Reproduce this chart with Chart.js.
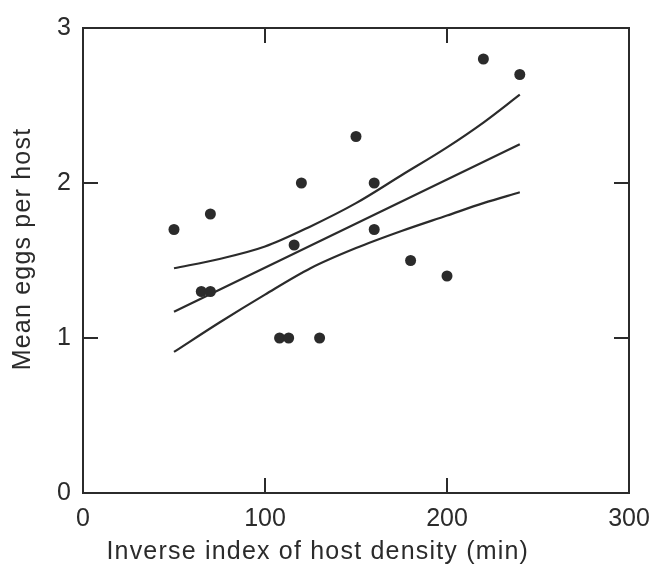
<!DOCTYPE html>
<html lang="en">
<head>
    <meta charset="UTF-8">
    <title>Mean eggs per host</title>
    <style>
        body { margin: 0; background: #fff; }
        #wrap { width: 649px; height: 564px; }
    </style>
</head>
<body>
    <div id="wrap">
        <canvas id="myChart" width="649" height="564"></canvas>
    </div>

    <script src="https://cdn.jsdelivr.net/npm/chart.js"></script>
    <script>
        // observed points
        const eggX = [50, 65, 70, 70, 108, 113, 116, 120, 130, 150, 160, 160, 180, 200, 220, 240];
        const eggY = [1.7, 1.3, 1.3, 1.8, 1.0, 1.0, 1.6, 2.0, 1.0, 2.3, 2.0, 1.7, 1.5, 1.4, 2.8, 2.7];

        // regression line
        const fitX = [50, 240];
        const fitY = [1.17, 2.25];

        // confidence band
        const bandX = [50, 75, 100, 125, 150, 175, 200, 220, 240];
        const upperY = [1.45, 1.51, 1.59, 1.72, 1.87, 2.05, 2.23, 2.39, 2.57];
        const lowerY = [0.91, 1.10, 1.28, 1.45, 1.58, 1.69, 1.79, 1.87, 1.94];

        // axis ticks
        const xTicks = [0, 100, 200, 300];
        const yTicks = [0, 1, 2, 3];

        const xTitle = "Inverse index of host density (min)";
        const yTitle = "Mean eggs per host";

        const ink = "#2b2b2b";
        const fontFam = "'Liberation Sans', Arial, sans-serif";

        function toPts(xs, ys) {
            return xs.map((x, i) => ({ x: x, y: ys[i] }));
        }

        // box + inward tick marks + axis titles
        const framePlugin = {
            id: "frame",
            afterDraw(chart) {
                const c = chart.ctx;
                const a = chart.chartArea;
                const sx = chart.scales.x;
                const sy = chart.scales.y;
                const len = 15;
                c.save();
                c.strokeStyle = ink;
                c.lineWidth = 2;
                c.strokeRect(a.left, a.top, a.right - a.left, a.bottom - a.top);
                c.beginPath();
                xTicks.slice(1, -1).forEach(v => {
                    const px = Math.round(sx.getPixelForValue(v));
                    c.moveTo(px, a.bottom); c.lineTo(px, a.bottom - len);
                    c.moveTo(px, a.top); c.lineTo(px, a.top + len);
                });
                yTicks.slice(1, -1).forEach(v => {
                    const py = Math.round(sy.getPixelForValue(v));
                    c.moveTo(a.left, py); c.lineTo(a.left + len, py);
                    c.moveTo(a.right, py); c.lineTo(a.right - len, py);
                });
                c.stroke();

                // titles
                c.fillStyle = ink;
                c.font = "25px " + fontFam;
                c.letterSpacing = "1.2px";
                c.textAlign = "center";
                c.textBaseline = "middle";
                c.fillText(xTitle, a.left + (a.right - a.left) * 0.43, 552);
                c.translate(23, 249);
                c.rotate(-Math.PI / 2);
                c.fillText(yTitle, 0, 0);
                c.restore();
            }
        };

        const ctx = document.getElementById("myChart");
        let myChart = new Chart(ctx, {
            type: "scatter",
            data: {
                datasets: [{
                    label: "eggs",
                    data: toPts(eggX, eggY),
                    pointRadius: 5.5,
                    pointBackgroundColor: ink,
                    pointBorderWidth: 0,
                    showLine: false
                }, {
                    label: "fit",
                    data: toPts(fitX, fitY),
                    showLine: true,
                    pointRadius: 0,
                    borderColor: ink,
                    borderWidth: 2.2
                }, {
                    label: "upper",
                    data: toPts(bandX, upperY),
                    showLine: true,
                    pointRadius: 0,
                    borderColor: ink,
                    borderWidth: 2.2,
                    cubicInterpolationMode: "monotone"
                }, {
                    label: "lower",
                    data: toPts(bandX, lowerY),
                    showLine: true,
                    pointRadius: 0,
                    borderColor: ink,
                    borderWidth: 2.2,
                    cubicInterpolationMode: "monotone"
                }]
            },
            options: {
                responsive: false,
                animation: false,
                layout: {
                    padding: { top: 28, right: 20, left: 0, bottom: 0 }
                },
                plugins: {
                    legend: { display: false },
                    tooltip: { enabled: false }
                },
                scales: {
                    x: {
                        type: "linear",
                        min: 0,
                        max: 300,
                        afterBuildTicks(scale) {
                            scale.ticks = xTicks.map(v => ({ value: v }));
                        },
                        afterFit(scale) {
                            scale.height = 71;
                            scale.paddingLeft = 0;
                            scale.paddingRight = 0;
                        },
                        grid: { display: false, drawTicks: false },
                        border: { display: false },
                        ticks: {
                            padding: 11,
                            color: ink,
                            maxRotation: 0,
                            font: { family: fontFam, size: 25 }
                        }
                    },
                    y: {
                        type: "linear",
                        min: 0,
                        max: 3,
                        afterBuildTicks(scale) {
                            scale.ticks = yTicks.map(v => ({ value: v }));
                        },
                        afterFit(scale) {
                            scale.width = 83;
                            scale.paddingTop = 0;
                            scale.paddingBottom = 0;
                        },
                        grid: { display: false, drawTicks: false },
                        border: { display: false },
                        ticks: {
                            padding: 12,
                            color: ink,
                            font: { family: fontFam, size: 25 }
                        }
                    }
                }
            },
            plugins: [framePlugin]
        });
    </script>
</body>
</html>
